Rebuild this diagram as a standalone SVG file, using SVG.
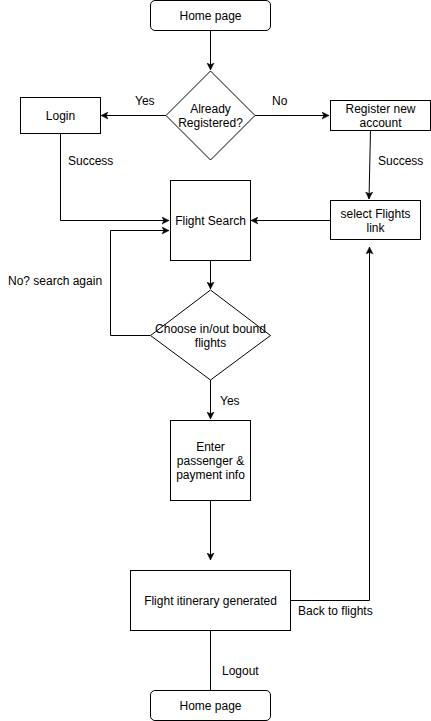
<svg xmlns="http://www.w3.org/2000/svg" width="431" height="721" viewBox="0 0 431 721">
<style>
.n{fill:#fff;stroke:#000;stroke-width:1}
.t{font-family:"Liberation Sans",Arial,sans-serif;font-size:12px;fill:#000;text-anchor:middle}
.l{font-family:"Liberation Sans",Arial,sans-serif;font-size:12px;fill:#000}
.e{fill:none;stroke:#000;stroke-width:1}
</style>
<defs>
<marker id="a" markerWidth="8" markerHeight="8" refX="7" refY="4" orient="auto" markerUnits="userSpaceOnUse">
<path d="M0,0.5 L7,4 L0,7.5 L1.8,4 Z" fill="#000" stroke="#000" stroke-width="0.5"/>
</marker>
</defs>
<rect width="431" height="721" fill="#fff"/>
<g id="connectors">
<path class="e" d="M210.5,30.5 V70" marker-end="url(#a)"/>
<path class="e" d="M166,115.5 H101" marker-end="url(#a)"/>
<path class="e" d="M255,115.5 H329" marker-end="url(#a)"/>
<path class="e" d="M370.5,130.5 L369,199" marker-end="url(#a)"/>
<path class="e" d="M60.5,133.5 V220.5 H169" marker-end="url(#a)"/>
<path class="e" d="M330,220.5 H251" marker-end="url(#a)"/>
<path class="e" d="M150,335.5 H110.5 V230.5 H169" marker-end="url(#a)"/>
<path class="e" d="M210.5,260.5 V289" marker-end="url(#a)"/>
<path class="e" d="M210.5,380 V419" marker-end="url(#a)"/>
<path class="e" d="M210.5,500.5 V560" marker-end="url(#a)"/>
<path class="e" d="M290.5,600.5 H369.5 V247" marker-end="url(#a)"/>
<path class="e" d="M210.5,630.5 V690"/>
<text class="l" x="135" y="105">Yes</text>
<text class="l" x="272" y="105">No</text>
<text class="l" x="68" y="165">Success</text>
<text class="l" x="378" y="165">Success</text>
<text class="l" x="8" y="285">No? search again</text>
<text class="l" x="220" y="405">Yes</text>
<text class="l" x="298" y="615">Back to flights</text>
<text class="l" x="222" y="675">Logout</text>
</g>
<g id="home-top">
<rect class="n" x="150.5" y="0.5" width="120" height="30" rx="4.5"/>
<text class="t" x="210.5" y="20">Home page</text>
</g>
<g id="already-registered">
<path class="n" d="M210.5,71 L255,115.5 L210.5,160 L166,115.5 Z"/>
<text class="t" x="210.5" y="113">Already</text>
<text class="t" x="210.5" y="127">Registered?</text>
</g>
<g id="login">
<rect class="n" x="20.5" y="97.5" width="80" height="36"/>
<text class="t" x="60.5" y="120">Login</text>
</g>
<g id="register">
<rect class="n" x="330.5" y="100.5" width="100" height="30"/>
<text class="t" x="380.5" y="113">Register new</text>
<text class="t" x="380.5" y="127">account</text>
</g>
<g id="flight-search">
<rect class="n" x="170.5" y="180.5" width="80" height="80"/>
<text class="t" x="210.5" y="225">Flight Search</text>
</g>
<g id="select-flights">
<rect class="n" x="330.5" y="200.5" width="90" height="39"/>
<text class="t" x="375.5" y="218">select Flights</text>
<text class="t" x="375.5" y="232">link</text>
</g>
<g id="choose-flights">
<path class="n" d="M210.5,290 L270.5,335.5 L210.5,380 L150.5,335.5 Z"/>
<text class="t" x="210.5" y="333">Choose in/out bound</text>
<text class="t" x="210.5" y="347">flights</text>
</g>
<g id="enter-info">
<rect class="n" x="170.5" y="420.5" width="80" height="80"/>
<text class="t" x="210.5" y="451">Enter</text>
<text class="t" x="210.5" y="465">passenger &amp;</text>
<text class="t" x="210.5" y="479">payment info</text>
</g>
<g id="itinerary">
<rect class="n" x="130.5" y="570.5" width="160" height="60"/>
<text class="t" x="210.5" y="605">Flight itinerary generated</text>
</g>
<g id="home-bottom">
<rect class="n" x="150.5" y="690.5" width="120" height="30" rx="4.5"/>
<text class="t" x="210.5" y="710">Home page</text>
</g>
</svg>
